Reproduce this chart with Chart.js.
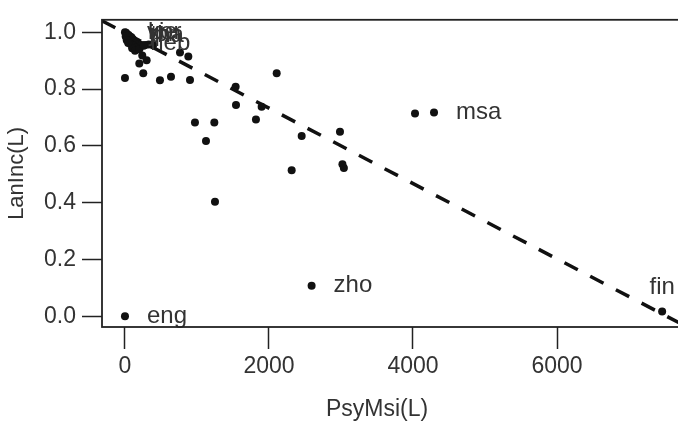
<!DOCTYPE html>
<html>
<head>
<meta charset="utf-8">
<script src="https://cdn.jsdelivr.net/npm/chart.js@4"></script>
<style>
  html, body { margin: 0; padding: 0; background: #fff; overflow: hidden; }
  #wrap { width: 678px; height: 424px; overflow: hidden; }
</style>
</head>
<body>
<div id="wrap"><canvas id="chart" width="700" height="424"></canvas></div>
<script>
// PsyMsi vs LanInc per language
const psyMsi = [
  0, 15, 30, 50, 70, 10, 35, 90, 110, 60, 130, 160, 80, 190, 120, 230, 280, 330, 390, 150, 100, 140, 200, 260, 25, 45,
  240, 199, 301, 764, 880,
  0, 254, 486, 639, 903,
  1537, 2107, 1542, 1898, 1819, 972, 1241, 1125, 2454, 2315, 1250,
  2986, 3020, 3040,
  4028, 4292,
  2592, 7460, 0
];
const lanInc = [
  1.0, 0.998, 0.993, 0.99, 0.985, 0.985, 0.978, 0.982, 0.975, 0.97, 0.968, 0.963, 0.958, 0.958, 0.952, 0.955, 0.955, 0.957, 0.954, 0.945, 0.944, 0.935, 0.94, 0.952, 0.972, 0.962,
  0.918, 0.890, 0.901, 0.929, 0.915,
  0.839, 0.856, 0.831, 0.843, 0.832,
  0.808, 0.856, 0.744, 0.738, 0.693, 0.682, 0.682, 0.617, 0.635, 0.514, 0.403,
  0.650, 0.535, 0.522,
  0.714, 0.717,
  0.107, 0.017, 0.0
];
const langNames = [
  "vie", "kor", "jpn", "tha", "", "", "", "", "", "", "", "", "", "", "", "", "", "", "", "", "", "", "", "", "", "heb",
  "", "", "", "", "",
  "", "", "", "", "",
  "", "", "", "", "", "", "", "", "", "", "",
  "", "", "",
  "", "msa",
  "zho", "fin", "eng"
];
const xTicks = [0, 2000, 4000, 6000];
const yTicks = [0, 0.2, 0.4, 0.6, 0.8, 1.0];

// dashed reference line: LanInc = a + b * PsyMsi
const fitIntercept = 0.998;
const fitSlope = -1.327e-4;

const xMin = -319, xMax = 7847;
const yMin = -0.038, yMax = 1.0438;

Chart.defaults.font.family = "'Liberation Sans', Arial, sans-serif";
Chart.defaults.color = "#333";

const points = psyMsi.map((x, i) => ({ x: x, y: lanInc[i] }));
const fitLine = [xMin, xMax].map(x => ({ x: x, y: fitIntercept + fitSlope * x }));

const aboveLabels = ["fin"];

// box around the plot region, plus the x axis title
const framePlugin = {
  id: "frame",
  afterDraw(chart) {
    const a = chart.chartArea;
    const ctx = chart.ctx;
    ctx.save();
    ctx.strokeStyle = "#222";
    ctx.lineWidth = 1.8;
    ctx.strokeRect(a.left, a.top, a.right - a.left, a.bottom - a.top);

    ctx.font = "23px 'Liberation Sans', Arial, sans-serif";
    ctx.fillStyle = "#333";
    ctx.textAlign = "center";
    ctx.textBaseline = "middle";
    ctx.fillText("PsyMsi(L)", a.left + 275, chart.scales.x.bottom - 14);
    ctx.restore();
  }
};

// language codes next to their points
const labelPlugin = {
  id: "pointNames",
  afterDatasetsDraw(chart) {
    const ctx = chart.ctx;
    const xs = chart.scales.x, ys = chart.scales.y;
    ctx.save();
    ctx.font = "24px 'Liberation Sans', Arial, sans-serif";
    ctx.fillStyle = "#333";
    ctx.textBaseline = "middle";
    langNames.forEach((name, i) => {
      if (!name) return;
      const px = xs.getPixelForValue(psyMsi[i]);
      const py = ys.getPixelForValue(lanInc[i]);
      if (aboveLabels.includes(name)) {
        ctx.textAlign = "center";
        ctx.fillText(name, px, py - 24);
      } else {
        ctx.textAlign = "left";
        ctx.fillText(name, px + 22, py);
      }
    });
    ctx.restore();
  }
};

new Chart(document.getElementById("chart"), {
  type: "scatter",
  data: {
    datasets: [
      {
        data: points,
        pointRadius: 4,
        pointHoverRadius: 4,
        pointBackgroundColor: "#111",
        pointBorderWidth: 0
      },
      {
        type: "line",
        data: fitLine,
        borderColor: "#111",
        borderWidth: 3.5,
        borderDash: [15, 14],
        pointRadius: 0,
        fill: false
      }
    ]
  },
  options: {
    responsive: false,
    animation: false,
    devicePixelRatio: 1,
    layout: { padding: { top: 6, right: 10, left: 0, bottom: 0 } },
    plugins: { legend: { display: false }, tooltip: { enabled: false } },
    scales: {
      x: {
        type: "linear",
        min: xMin,
        max: xMax,
        afterBuildTicks: s => { s.ticks = xTicks.map(v => ({ value: v })); },
        afterFit: s => { s.height = 97; },
        grid: { drawOnChartArea: false, tickLength: 22, tickColor: "#222", tickWidth: 1.5 },
        border: { display: false },
        ticks: { font: { size: 23 }, color: "#333", padding: 4, maxRotation: 0, autoSkip: false, callback: v => String(v) },
        title: { display: false }
      },
      y: {
        type: "linear",
        min: yMin,
        max: yMax,
        afterBuildTicks: s => { s.ticks = yTicks.map(v => ({ value: v })); },
        afterFit: s => { s.width = 102; },
        grid: { drawOnChartArea: false, tickLength: 20, tickColor: "#222", tickWidth: 1.5 },
        border: { display: false },
        ticks: { font: { size: 23 }, color: "#333", padding: 6, callback: v => v.toFixed(1) },
        title: { display: true, text: "LanInc(L)", font: { size: 22 }, color: "#333", padding: { top: 4 } }
      }
    }
  },
  plugins: [framePlugin, labelPlugin]
});
</script>
</body>
</html>
